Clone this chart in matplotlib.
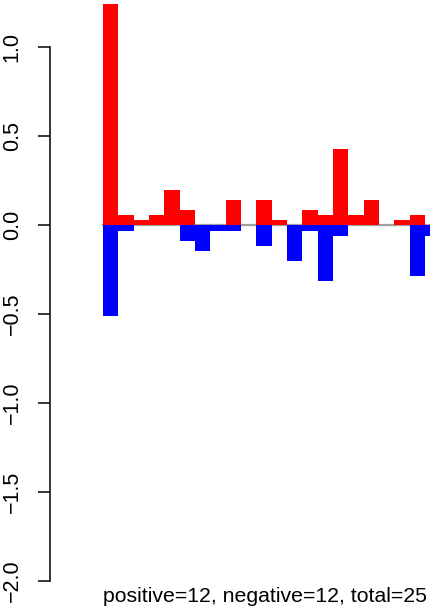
import matplotlib
matplotlib.use("Agg")
import matplotlib.pyplot as plt
import numpy as np

# values (bars past the right edge are cut off there too)
positive = [1.24, 0.056, 0.028, 0.056, 0.197, 0.084, 0.0, 0.0, 0.14, 0.0, 0.14,
            0.028, 0.0, 0.084, 0.056, 0.427, 0.056, 0.14, 0.0, 0.028, 0.056, 0.0]
negative = [-0.511, -0.034, 0.0, 0.0, 0.0, -0.09, -0.146, -0.034, -0.034, 0.0, -0.118,
            0.0, -0.2, -0.034, -0.315, -0.06, 0.0, 0.0, 0.0, 0.0, -0.287, -0.06]
yticks = [-2.0, -1.5, -1.0, -0.5, 0.0, 0.5, 1.0]
caption = "positive=12, negative=12, total=25"

plt.rcParams['font.family'] = ['Liberation Sans', 'DejaVu Sans']

W, H = 430, 613
fig = plt.figure(figsize=(W / 100, H / 100), dpi=100)
ax = fig.add_axes([50 / W, 0, 1 - 50 / W, 1])

x = np.arange(len(positive))
# zero line runs along the bars only
ax.plot([0, len(positive) + 3], [0, 0], color="#a0a0a0", lw=1.6, zorder=1)
ax.bar(x, positive, width=1, align="edge", color="#ff0000", zorder=2)
ax.bar(x, negative, width=1, align="edge", color="#0000ff", zorder=2)

bw = 15.33
ax.set_xlim((50 - 103) / bw, (430 - 103) / bw)
ax.set_ylim((225 - 613) / 178, 225 / 178)

for s in ["top", "right", "bottom"]:
    ax.spines[s].set_visible(False)
ax.spines["left"].set_bounds(-2, 1)
ax.spines["left"].set_linewidth(1.1)
ax.set_xticks([])
ax.set_yticks(yticks)
ax.set_yticklabels([f"{v:.1f}".replace("-", "\u2212") for v in yticks],
                   rotation=90, va="center", fontsize=15.5)
ax.tick_params(axis="y", direction="out", length=8.6, width=1.1, pad=11)
ax.patch.set_alpha(0)

fig.text(103 / W, 1 - 602 / H, caption, ha="left", va="baseline", fontsize=15.3)

fig.savefig("out.png", dpi=100)
